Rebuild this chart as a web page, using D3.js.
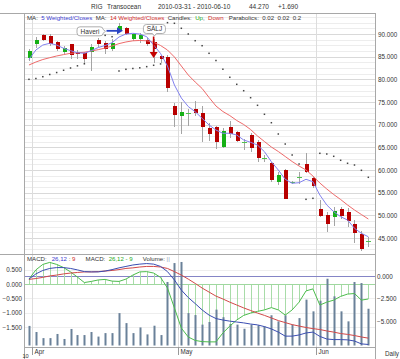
<!DOCTYPE html>
<html>
<head>
<meta charset="utf-8">
<script src="https://cdn.jsdelivr.net/npm/d3@7"></script>
<style>
  body { margin: 0; background: #fff; }
  svg { display: block; font-family: "Liberation Sans", Arial, sans-serif; }
</style>
</head>
<body>
<svg id="chart"></svg>
<script>
// trading days 2010-03-31 .. 2010-06-10
const dates = [
  "2010-03-31",
  "2010-04-01","2010-04-05","2010-04-06","2010-04-07","2010-04-08","2010-04-09",
  "2010-04-12","2010-04-13","2010-04-14","2010-04-15","2010-04-16",
  "2010-04-19","2010-04-20","2010-04-21","2010-04-22","2010-04-23",
  "2010-04-26","2010-04-27","2010-04-28","2010-04-29","2010-04-30",
  "2010-05-03","2010-05-04","2010-05-05","2010-05-06","2010-05-07",
  "2010-05-10","2010-05-11","2010-05-12","2010-05-13","2010-05-14",
  "2010-05-17","2010-05-18","2010-05-19","2010-05-20","2010-05-21",
  "2010-05-24","2010-05-25","2010-05-26","2010-05-27","2010-05-28",
  "2010-06-01","2010-06-02","2010-06-03","2010-06-04",
  "2010-06-07","2010-06-08","2010-06-09","2010-06-10"
];
const open  = [84.6,87.7,89.8,89.6,88.2,86.1,87.7,86.1,85.9,85.96,88.7,88.1,86.7,90.7,91.25,89.0,89.0,88.7,88.3,85.2,
               85.0,74.2,72.0,72.4,73.45,72.5,69.3,69.55,65.1,69.55,68.3,66.1,67.7,66.25,62.6,61.5,57.4,60.0,57.3,58.3,
               61.25,58.2,51.3,50.0,49.7,51.5,50.7,48.1,45.8,44.2];
const high  = [86.7,89.4,90.0,89.9,88.45,87.4,87.9,86.4,86.1,87.9,89.2,88.45,88.9,92.5,91.6,90.3,90.15,89.05,88.8,85.4,
               85.4,74.7,75.1,73.45,75.2,74.2,70.3,69.8,69.3,70.8,68.6,66.8,68.1,66.6,63.3,61.8,59.6,60.15,57.6,59.5,
               63.8,58.5,53.4,50.8,51.9,51.9,51.7,48.9,46.6,45.3];
const low   = [84.0,87.0,88.4,87.4,86.25,85.5,84.4,84.5,83.3,81.8,87.2,85.5,86.25,90.4,89.8,88.5,88.1,87.35,83.6,83.6,
               77.3,69.55,67.9,69.8,72.0,66.25,66.4,64.6,64.8,67.1,66.1,64.4,64.0,61.8,61.8,57.4,56.7,53.5,57.0,56.85,
               59.3,56.1,49.7,46.4,47.6,49.1,47.35,43.8,42.2,43.0];
const close = [86.25,88.7,88.75,87.9,86.6,87.0,85.4,85.65,84.4,87.1,87.9,86.6,88.1,91.8,90.1,90.0,89.8,87.8,86.6,84.55,
               78.15,72.1,72.7,72.5,72.5,69.5,67.9,66.1,68.6,67.9,66.4,66.15,64.8,62.6,62.65,57.8,59.0,53.66,57.3,58.35,
               59.5,56.55,49.85,48.1,50.95,49.85,48.8,46.0,42.58,44.27];

const ma5  = [84.42,86.47,87.57,87.95,87.57,86.85,86.32,85.87,85.74,86.32,87.02,87.46,88.08,89.34,90.0,90.15,90.0,89.4,87.57,85.7,
              82.94,78.75,75.88,74.0,72.86,71.4,69.93,68.82,68.1,68.1,67.72,66.62,66.11,65.5,64.04,61.83,60.0,57.95,57.07,57.2,
              57.95,57.42,54.48,52.28,50.8,49.7,48.97,47.14,46.03,45.28];
const ma14 = [83.16,83.82,84.37,84.77,85.15,85.46,85.74,85.85,85.98,86.25,86.54,86.91,87.35,87.88,88.24,88.5,88.57,88.5,88.17,87.46,
              86.47,84.93,82.94,80.96,79.41,77.98,76.0,74.12,72.9,72.0,70.92,70.04,68.93,67.5,66.28,65.07,64.08,62.98,61.87,60.88,
              60.0,58.67,57.13,55.81,54.59,53.49,52.28,51.17,50.18,49.19];
const sar  = [80.0,80.18,80.58,81.07,81.5,82.0,82.5,82.98,83.43,90.3,90.1,89.7,89.4,81.84,82.21,82.39,82.54,82.8,83.1,83.4,
              92.5,92.36,91.26,90.0,88.52,87.42,85.74,84.15,82.23,80.45,78.9,77.49,75.95,74.27,72.29,70.43,67.94,65.73,63.31,61.32,
              53.53,53.75,63.68,63.53,63.02,62.14,61.48,61.1,59.93,58.39];

const macd   = [0.17,0.35,0.47,0.54,0.57,0.57,0.54,0.49,0.43,0.42,0.42,0.45,0.50,0.56,0.61,0.66,0.69,0.71,0.69,0.61,
                0.43,0.14,-0.21,-0.47,-0.68,-0.90,-1.08,-1.20,-1.25,-1.29,-1.32,-1.35,-1.39,-1.42,-1.48,-1.56,-1.67,-1.81,-1.81,-1.77,
                -1.70,-1.67,-1.82,-1.91,-1.93,-1.93,-1.94,-1.98,-2.08,-2.10];
const signal = [0.16,0.19,0.23,0.28,0.31,0.35,0.38,0.40,0.42,0.42,0.43,0.45,0.47,0.50,0.54,0.56,0.59,0.61,0.61,0.59,
                0.54,0.43,0.31,0.17,0.02,-0.14,-0.28,-0.42,-0.52,-0.63,-0.73,-0.83,-0.92,-1.01,-1.09,-1.18,-1.27,-1.34,-1.41,-1.46,
                -1.51,-1.55,-1.58,-1.63,-1.67,-1.72,-1.75,-1.79,-1.84,-1.88];
const hist   = [0.17,0.49,0.68,0.75,0.68,0.57,0.42,0.24,0.05,0.09,0.14,0.16,0.10,0.09,0.17,0.31,0.42,0.43,0.38,0.23,
                -0.14,-0.83,-1.53,-1.84,-1.96,-2.00,-2.01,-2.01,-1.70,-1.46,-1.25,-1.09,-1.01,-0.95,-0.90,-0.82,-0.90,-1.08,-0.90,-0.63,
                -0.24,-0.17,-0.73,-0.63,-0.56,-0.43,-0.35,-0.33,-0.56,-0.52];
const volume = [9.0,6.2,3.4,3.4,5.3,3.0,7.6,4.8,4.8,6.2,4.1,5.7,5.7,14.9,10.3,5.7,8.3,5.1,9.1,4.8,
                29.2,37.9,38.4,14.9,14.0,9.6,10.8,16.5,13.0,9.9,9.6,7.7,9.6,9.3,8.8,13.9,11.1,13.9,9.6,12.6,
                21.1,15.7,20.6,30.7,22.6,15.7,11.1,29.2,28.7,16.9];

const priceTicks = [45, 50, 55, 60, 65, 70, 75, 80, 85, 90];
const macdTicks = [0.5, 0, -0.5, -1, -1.5];
const histTicks = [0, -2.5, -5];

const annotations = [
  { i: 13, price: 90.7, text: "Haveri", kind: "buy" },
  { i: 18, price: 84.7, text: "SÄLJ", kind: "sell" }
];

const width = 400, height = 359;
const left = 24, right = 375;
const mainTop = 13, mainBottom = 254;
const lowTop = 255, lowBottom = 347;
const font = "Liberation Sans, Arial, sans-serif";

const svg = d3.select("#chart")
    .attr("width", width)
    .attr("height", height)
    .attr("viewBox", [0, 0, width, height]);

const x = d3.scaleBand().domain(dates).range([25.5, 371.8]);
const xc = i => x(dates[i]) + x.bandwidth() / 2;
const yPrice = d3.scaleLinear().domain([45, 90]).range([238, 34]);
const yMacd = d3.scaleLinear().domain([-1.5, 0.5]).range([327.2, 269.6]);
const yRight = d3.scaleLinear().domain([-5, 0]).range([321, 276.3]);
const yVol = d3.scaleLinear().domain([0, 40]).range([345.5, 258.5]);

const defs = svg.append("defs");
defs.append("clipPath").attr("id", "clipMain")
  .append("rect").attr("x", left).attr("y", mainTop).attr("width", right - left).attr("height", mainBottom - mainTop);
defs.append("clipPath").attr("id", "clipLow")
  .append("rect").attr("x", left).attr("y", lowTop).attr("width", right - left).attr("height", lowBottom - lowTop);

// horizontal grid in price panel
const gridVals = d3.range(33, 76).map(k => k * 1.25);
svg.append("g")
  .selectAll("line")
  .data(gridVals.filter(v => yPrice(v) > mainTop && yPrice(v) < mainBottom))
  .join("line")
    .attr("x1", left).attr("x2", right)
    .attr("y1", d => Math.round(yPrice(d)) + 0.5)
    .attr("y2", d => Math.round(yPrice(d)) + 0.5)
    .attr("stroke", d => d % 5 === 0 ? "#d9d9d9" : "#ededed");

// lower panel grid
svg.append("g")
  .selectAll("line")
  .data(macdTicks)
  .join("line")
    .attr("x1", left).attr("x2", right)
    .attr("y1", d => Math.round(yMacd(d)) + 0.5)
    .attr("y2", d => Math.round(yMacd(d)) + 0.5)
    .attr("stroke", "#eeeeee");

// month boundaries
const parse = d3.timeParse("%Y-%m-%d");
const monthStarts = d3.range(dates.length).filter(i => i > 0 && parse(dates[i]).getMonth() !== parse(dates[i - 1]).getMonth());
svg.append("g")
  .selectAll("line")
  .data(monthStarts)
  .join("line")
    .attr("x1", i => Math.round(x(dates[i])) + 0.5)
    .attr("x2", i => Math.round(x(dates[i])) + 0.5)
    .attr("y1", mainTop).attr("y2", lowBottom)
    .attr("stroke", "#dddddd");

// candles
const candles = svg.append("g").attr("clip-path", "url(#clipMain)").attr("shape-rendering", "crispEdges");
const I = d3.range(dates.length);
candles.selectAll("line.wick")
  .data(I)
  .join("line")
    .attr("class", "wick")
    .attr("x1", i => Math.round(xc(i)) + 0.5)
    .attr("x2", i => Math.round(xc(i)) + 0.5)
    .attr("y1", i => yPrice(high[i]))
    .attr("y2", i => yPrice(low[i]))
    .attr("stroke", "#a4a4a4");
const isDoji = i => Math.abs(close[i] - open[i]) < 0.15;
candles.selectAll("rect")
  .data(I.filter(i => !isDoji(i)))
  .join("rect")
    .attr("x", i => Math.round(xc(i)) - 1.5)
    .attr("width", 4)
    .attr("y", i => yPrice(Math.max(open[i], close[i])))
    .attr("height", i => Math.abs(yPrice(open[i]) - yPrice(close[i])))
    .attr("fill", i => close[i] >= open[i] ? "#16b016" : "#b80000");
candles.selectAll("line.doji")
  .data(I.filter(isDoji))
  .join("line")
    .attr("class", "doji")
    .attr("x1", i => Math.round(xc(i)) - 2)
    .attr("x2", i => Math.round(xc(i)) + 3)
    .attr("y1", i => Math.round(yPrice(close[i])) + 0.5)
    .attr("y2", i => Math.round(yPrice(close[i])) + 0.5)
    .attr("stroke", "#4fc14f");

// moving averages
const priceLine = arr => d3.line().x((d, i) => xc(i)).y(d => yPrice(d))(arr);
const maG = svg.append("g").attr("clip-path", "url(#clipMain)").attr("fill", "none");
maG.append("path").attr("d", priceLine(ma14)).attr("stroke", "#ee6a6a").attr("stroke-width", 1);
maG.append("path").attr("d", priceLine(ma5)).attr("stroke", "#8282ee").attr("stroke-width", 1);

// parabolic SAR
svg.append("g")
    .attr("clip-path", "url(#clipMain)")
  .selectAll("rect")
  .data(I)
  .join("rect")
    .attr("x", i => xc(i) - 0.75)
    .attr("y", i => yPrice(sar[i]) - 0.75)
    .attr("width", 1.5).attr("height", 1.5)
    .attr("fill", "#444");

// annotations
const ann = svg.append("g").attr("font-family", font).attr("font-size", 6.5);
annotations.forEach(a => {
  const cx = xc(a.i), cy = yPrice(a.price);
  if (a.kind === "buy") {
    const tip = cx + 4, bx1 = tip - 20, bx0 = bx1 - 26, by = cy + 0.5;
    ann.append("path")
      .attr("d", `M${bx0 + 3},${by - 4.5} H${bx1 - 3} Q${bx1},${by - 4.5} ${bx1},${by - 2} L${bx1 + 2.5},${by} L${bx1},${by + 2} Q${bx1},${by + 4.5} ${bx1 - 3},${by + 4.5} H${bx0 + 3} Q${bx0},${by + 4.5} ${bx0},${by + 1.5} V${by - 1.5} Q${bx0},${by - 4.5} ${bx0 + 3},${by - 4.5} Z`)
      .attr("fill", "#fff").attr("stroke", "#9a9a9a").attr("stroke-width", 0.8);
    ann.append("text").attr("x", (bx0 + bx1) / 2).attr("y", by + 2.3)
      .attr("text-anchor", "middle").attr("fill", "#333").text(a.text);
    ann.append("line").attr("x1", bx1 + 3.5).attr("x2", tip - 5)
      .attr("y1", cy).attr("y2", cy).attr("stroke", "#2a44c4").attr("stroke-width", 1.8);
    ann.append("path").attr("d", `M${tip},${cy} L${tip - 6},${cy - 3.5} L${tip - 6},${cy + 3.5} Z`).attr("fill", "#2a44c4");
  } else {
    const bx = cx + 0.8, bTop = 24.5, bBot = 33.5;
    ann.append("path")
      .attr("d", `M${bx - 8},${bTop} H${bx + 8} Q${bx + 11},${bTop} ${bx + 11},${bTop + 3} V${bBot - 3} Q${bx + 11},${bBot} ${bx + 8},${bBot} H${bx + 2} L${bx},${bBot + 2.5} L${bx - 2},${bBot} H${bx - 8} Q${bx - 11},${bBot} ${bx - 11},${bBot - 3} V${bTop + 3} Q${bx - 11},${bTop} ${bx - 8},${bTop} Z`)
      .attr("fill", "#fff").attr("stroke", "#9a9a9a").attr("stroke-width", 0.8);
    ann.append("text").attr("x", bx).attr("y", bBot - 2.3)
      .attr("text-anchor", "middle").attr("fill", "#333").text(a.text);
    ann.append("line").attr("x1", cx).attr("x2", cx)
      .attr("y1", bBot + 3).attr("y2", cy - 5).attr("stroke", "#c40000").attr("stroke-width", 1.6);
    ann.append("path").attr("d", `M${cx},${cy} L${cx - 4},${cy - 6} L${cx + 4},${cy - 6} Z`).attr("fill", "#c40000");
  }
});

// ---- lower panel ----
const lowPanel = svg.append("g").attr("clip-path", "url(#clipLow)");
lowPanel.append("line")
    .attr("x1", left).attr("x2", right)
    .attr("y1", Math.round(yRight(0)) + 0.5).attr("y2", Math.round(yRight(0)) + 0.5)
    .attr("stroke", "#8585c6");
lowPanel.append("g")
  .selectAll("line")
  .data(I)
  .join("line")
    .attr("x1", i => Math.round(xc(i)) + 0.5).attr("x2", i => Math.round(xc(i)) + 0.5)
    .attr("y1", yMacd(0)).attr("y2", i => yMacd(hist[i]))
    .attr("stroke", "#a8dca8");
lowPanel.append("line")
    .attr("x1", left).attr("x2", right)
    .attr("y1", Math.round(yMacd(0)) + 0.5).attr("y2", Math.round(yMacd(0)) + 0.5)
    .attr("stroke", "#9fd89f");
lowPanel.append("g")
  .selectAll("rect")
  .data(I)
  .join("rect")
    .attr("x", i => Math.round(xc(i)) - 0.5)
    .attr("width", 2)
    .attr("y", i => yVol(volume[i]))
    .attr("height", i => yVol(0) - yVol(volume[i]))
    .attr("fill", "#6a8199");
const macdLine = arr => d3.line().x((d, i) => xc(i)).y(d => yMacd(d))(arr);
lowPanel.append("path").attr("d", macdLine(hist)).attr("fill", "none").attr("stroke", "#4cbc4c");
lowPanel.append("path").attr("d", macdLine(signal)).attr("fill", "none").attr("stroke", "#d24848");
lowPanel.append("path").attr("d", macdLine(macd)).attr("fill", "none").attr("stroke", "#3a4db2");

// frame
const frame = svg.append("g").attr("stroke", "#a8a8a8").attr("shape-rendering", "crispEdges");
frame.append("line").attr("x1", 0).attr("x2", right).attr("y1", mainTop + 0.5).attr("y2", mainTop + 0.5);
frame.append("line").attr("x1", 0).attr("x2", right).attr("y1", mainBottom + 0.5).attr("y2", mainBottom + 0.5);
frame.append("line").attr("x1", left).attr("x2", right).attr("y1", lowBottom + 0.5).attr("y2", lowBottom + 0.5);
frame.append("line").attr("x1", left + 0.5).attr("x2", left + 0.5).attr("y1", mainTop).attr("y2", height);
frame.append("line").attr("x1", right + 0.5).attr("x2", right + 0.5).attr("y1", mainTop).attr("y2", height);

// axes
const styleAxis = g => g
    .attr("font-family", font)
    .attr("font-size", 6.3)
    .call(g => g.select(".domain").remove())
    .call(g => g.selectAll("text").attr("fill", "#333"));

svg.append("g")
    .attr("transform", `translate(${right},0)`)
    .call(d3.axisRight(yPrice).tickValues(priceTicks).tickFormat(d3.format(".3f")).tickSize(0).tickPadding(3))
    .call(styleAxis);
svg.append("g")
    .attr("transform", `translate(${left},0)`)
    .call(d3.axisLeft(yMacd).tickValues(macdTicks).tickFormat(d3.format(".3f")).tickSize(0).tickPadding(2))
    .call(styleAxis);
svg.append("g")
    .attr("transform", `translate(${right},0)`)
    .call(d3.axisRight(yRight).tickValues(histTicks).tickFormat(d3.format(".3f")).tickSize(0).tickPadding(2))
    .call(styleAxis);

// month ticks and labels
const monthFmt = d3.timeFormat("%b");
const months = svg.append("g").attr("font-family", font).attr("font-size", 6.3).attr("fill", "#333");
monthStarts.forEach(i => {
  const mx = Math.round(x(dates[i])) + 0.5;
  months.append("line").attr("x1", mx).attr("x2", mx).attr("y1", lowBottom).attr("y2", 355).attr("stroke", "#999");
  months.append("text").attr("x", mx + 2).attr("y", 353.5).text(monthFmt(parse(dates[i])));
});
months.append("text").attr("x", 22.5).attr("y", 358.3).attr("font-size", 5.6).text(d3.timeFormat("%y")(parse(dates[0])));
months.append("text").attr("x", 385).attr("y", 355.5).text("Daily");

// title
const last = close.length - 1;
const chg = close[last] - close[last - 1];
const title = svg.append("g").attr("font-family", font).attr("font-size", 6.5).attr("fill", "#333");
title.append("text").attr("x", 91).attr("y", 8.5).text("RIG");
title.append("text").attr("x", 107).attr("y", 8.5).text("Transocean");
title.append("text").attr("x", 158).attr("y", 8.5).text(`${dates[0]} - ${dates[last]}`);
title.append("text").attr("x", 249).attr("y", 8.5).text(d3.format(".3f")(close[last]));
title.append("text").attr("x", 278).attr("y", 8.5).text(d3.format("+.3f")(chg));

// legends
const legend = (x0, y, parts) => {
  const t = svg.append("text")
      .attr("font-family", font).attr("font-size", 6.1)
      .attr("x", x0).attr("y", y)
      .style("white-space", "pre");
  parts.forEach(([txt, col]) => t.append("tspan").attr("fill", col).text(txt));
};
legend(27, 20, [
  ["MA:  ", "#333"], ["5 Weighted/Closes", "#3a3ad0"], ["  MA:  ", "#333"], ["14 Weighted/Closes", "#d02a2a"],
  ["  Candles:  ", "#333"], ["Up", "#22aa22"], [",  ", "#333"], ["Down", "#d02a2a"],
  ["   Parabolics:  0.02  0.02  0.2", "#333"]
]);
legend(27, 260.5, [
  ["MACD:   ", "#333"], ["26,12", "#3a3ad0"], [" : ", "#333"], ["9", "#d02a2a"],
  ["      MACD:  ", "#333"], ["26,12 - 9", "#22aa22"],
  ["      Volume: ", "#333"], ["||", "#8aa0b8"]
]);
</script>
</body>
</html>
